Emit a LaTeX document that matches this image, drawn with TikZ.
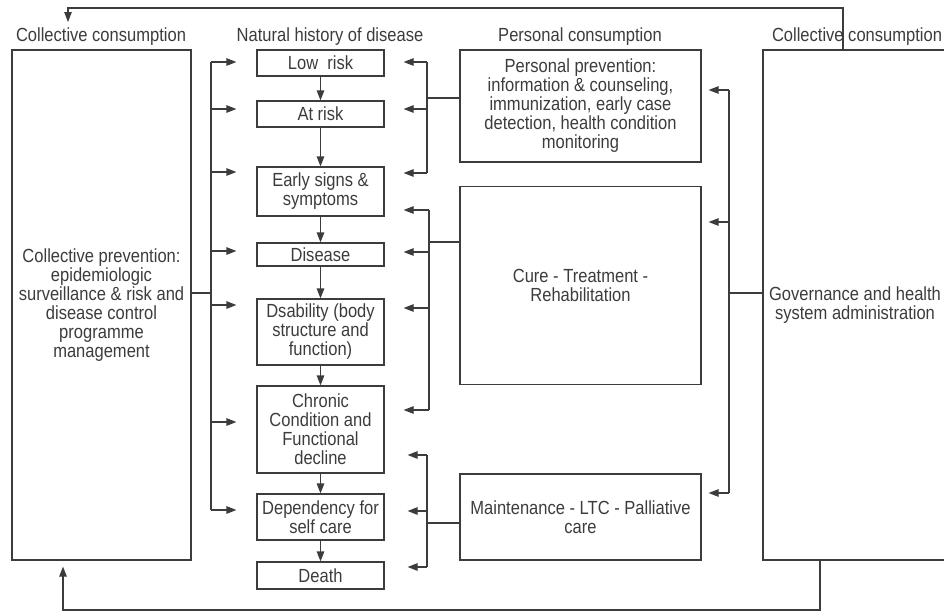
\documentclass[tikz,border=0pt]{standalone}
\usepackage{fontspec}
\setmainfont{Liberation Sans}[FakeStretch=0.87]
\usetikzlibrary{arrows.meta,calc}
\definecolor{ink}{HTML}{3C3C3C}

\begin{document}
\begin{tikzpicture}[x=1pt,y=-1pt,line width=1.2pt,color=ink,
    font={\fontsize{19}{19}\selectfont},
    stage/.style={draw,minimum width=127,inner sep=0pt,align=center},
    care/.style={draw,minimum width=241,inner sep=0pt,align=center},
    wide/.style={draw,minimum height=510,inner sep=0pt,align=center},
    head/.style={inner sep=0pt},
    arr/.style={-{Triangle[length=10pt,width=7.5pt]}}]
  \useasboundingbox (0,0) rectangle (944,611);
  \clip (0,0) rectangle (944,611);

  %%%%%%%%%%%%%%%%%%%%%%%%%%%%%%%%%%%%%%%%%%%%%%%%%%%%%%%%%%%%%%%%%%%%%%%%%%%
  %%%%  Headings
  \node[head] (hcoll) at (101,37) {Collective consumption};
  \node[head] (hnat) at (330,37) {Natural history of disease};
  \node[head] (hpers) at (580,37) {Personal consumption};
  \node[head] (hcollr) at (857,37) {Collective consumption};

  %%%%  Collective columns
  \node[wide,minimum width=179] (lcol) at (101.5,305)
    {Collective prevention:\\epidemiologic\\surveillance \& risk and\\disease control\\programme\\management};
  \node[wide,minimum width=184] (rcol) at (855,305)
    {Governance and health\\system administration};

  %%%%  Natural history
  \node[stage,minimum height=26] (lowrisk) at (320.5,63) {Low\ \ risk};
  \node[stage,minimum height=26] (atrisk) at (320.5,114) {At risk};
  \node[stage,minimum height=49] (early) at (320.5,191.5) {Early signs \&\\symptoms};
  \node[stage,minimum height=23] (disease) at (320.5,254.5) {Disease};
  \node[stage,minimum height=66] (dsab) at (320.5,332) {Dsability (body\\structure and\\function)};
  \node[stage,minimum height=87] (chronic) at (320.5,429.5) {Chronic\\Condition and\\Functional\\decline};
  \node[stage,minimum height=46] (depend) at (320.5,517) {Dependency for\\self care};
  \node[stage,minimum height=27] (death) at (320.5,575.5) {Death};

  \foreach \a/\b in {lowrisk/atrisk,atrisk/early,early/disease,disease/dsab,
                     dsab/chronic,chronic/depend,depend/death}
    \draw[arr] (\a) -- (\b);

  %%%%  Personal consumption
  \node[care,minimum height=112] (pprev) at (580.5,106)
    {Personal prevention:\\information \& counseling,\\immunization, early case\\detection, health condition\\monitoring};
  \node[care,minimum height=198] (cure) at (580.5,285.5) {Cure - Treatment -\\Rehabilitation};
  \node[care,minimum height=86] (maint) at (580.5,517) {Maintenance - LTC - Palliative\\care};

  %%%%%%%%%%%%%%%%%%%%%%%%%%%%%%%%%%%%%%%%%%%%%%%%%%%%%%%%%%%%%%%%%%%%%%%%%%%
  %%%%  Collective prevention bus
  \coordinate (lbus) at (211,293);
  \draw (lcol.east |- lbus) -- (lbus);
  \draw (lbus |- 0,62) -- (lbus |- 0,510);
  \foreach \n/\y in {lowrisk/62,atrisk/109,early/172,disease/251,dsab/305,chronic/422,depend/510}
    \draw[arr] (lbus |- 0,\y) -- ($(\n.west |- 0,\y)+(-20,0)$);

  %%%%  Personal prevention bus
  \coordinate (pbus) at (427,98);
  \draw (pprev.west |- pbus) -- (pbus);
  \draw (pbus |- 0,62) -- (pbus |- 0,173);
  \foreach \n/\y in {lowrisk/62,atrisk/109,early/173}
    \draw[arr] (pbus |- 0,\y) -- ($(\n.east |- 0,\y)+(19,0)$);

  %%%%  Cure bus
  \coordinate (cbus) at (429,242);
  \draw (cure.west |- cbus) -- (cbus);
  \draw (cbus |- 0,210) -- (cbus |- 0,410);
  \foreach \n/\y in {early/210,disease/252,dsab/308,chronic/410}
    \draw[arr] (cbus |- 0,\y) -- ($(\n.east |- 0,\y)+(19,0)$);

  %%%%  Maintenance bus
  \coordinate (mbus) at (427,523);
  \draw (maint.west |- mbus) -- (mbus);
  \draw (mbus |- 0,455) -- (mbus |- 0,567);
  \foreach \n/\y in {chronic/455,depend/511,death/567}
    \draw[arr] (mbus |- 0,\y) -- ($(\n.east |- 0,\y)+(23,0)$);

  %%%%  Governance bus
  \coordinate (gbus) at (729,293);
  \draw (rcol.west |- gbus) -- (gbus);
  \draw (gbus |- 0,90) -- (gbus |- 0,493);
  \foreach \n/\y in {pprev/90,cure/222,maint/493}
    \draw[arr] (gbus |- 0,\y) -- ($(\n.east |- 0,\y)+(7,0)$);

  %%%%  Feedback loops
  \coordinate (topl) at (68,8);
  \draw[arr] (rcol.north -| 843,0) |- (topl) -- ++(0,14);
  \coordinate (botl) at (63,610);
  \draw[arr] (rcol.south -| 820,0) |- (botl) -- ($(lcol.south -| botl)+(0,6)$);
\end{tikzpicture}
\end{document}
